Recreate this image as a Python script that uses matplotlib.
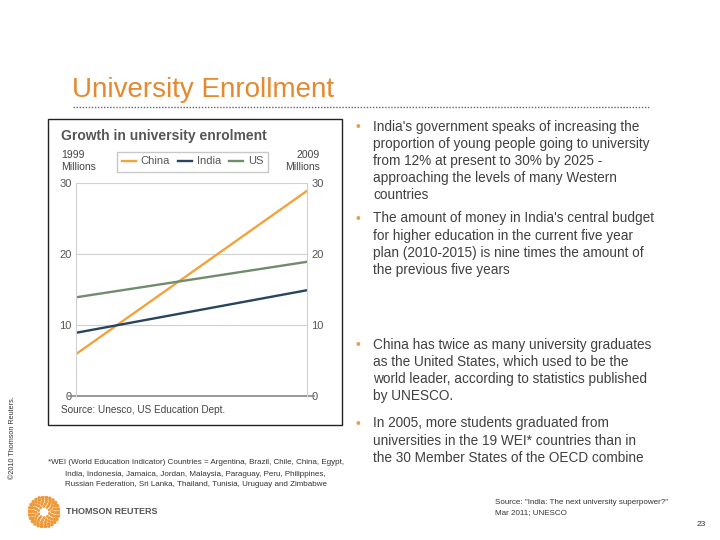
import matplotlib.pyplot as plt
import numpy as np

plt.rcParams['font.family'] = ['Liberation Sans', 'DejaVu Sans']

years = [1999, 2009]
china = [5.9, 28.9]
india = [8.9, 14.9]
us = [13.9, 18.9]
series_names = ['China', 'India', 'US']
series_colors = ['#F2A33C', '#27455F', '#6F8C6C']
yticks = [0, 10, 20, 30]

bullets = [
    "India's government speaks of increasing the\nproportion of young people going to university\n"
    "from 12% at present to 30% by 2025 -\napproaching the levels of many Western\ncountries",
    "The amount of money in India's central budget\nfor higher education in the current five year\n"
    "plan (2010-2015) is nine times the amount of\nthe previous five years",
    "China has twice as many university graduates\nas the United States, which used to be the\n"
    "world leader, according to statistics published\nby UNESCO.",
    "In 2005, more students graduated from\nuniversities in the 19 WEI* countries than in\n"
    "the 30 Member States of the OECD combine",
]
bullet_y = [127, 219, 345, 424]

footnote = ["*WEI (World Education Indicator) Countries = Argentina, Brazil, Chile, China, Egypt,",
            "India, Indonesia, Jamaica, Jordan, Malaysia, Paraguay, Peru, Philippines,",
            "Russian Federation, Sri Lanka, Thailand, Tunisia, Uruguay and Zimbabwe"]

W, H = 720, 540


def px(x, y):
    return x / W, 1 - y / H


fig = plt.figure(figsize=(7.2, 5.4), dpi=100)

# slide title + dotted rule
fig.text(*px(72, 90), 'University Enrollment', fontsize=20, color='#E5892E', va='center')
fig.add_artist(plt.Line2D([73 / W, 650 / W], [1 - 107 / H] * 2, color='#666666',
                          lw=1, ls=(0, (1, 1.2))))

# chart frame
fig.add_artist(plt.Rectangle(px(48, 425), 294 / W, 306 / H, fill=False,
                             edgecolor='#222222', lw=1))

fig.text(*px(61, 136), 'Growth in university enrolment', fontsize=10, fontweight='bold',
         color='#555555', va='center')
fig.text(*px(61, 161), '1999\nMillions', fontsize=7.5, color='#444444', va='center',
         linespacing=1.25)
fig.text(*px(320, 161), '2009\nMillions', fontsize=7.5, color='#444444', va='center',
         ha='right', linespacing=1.25)
fig.text(*px(61, 410), 'Source: Unesco, US Education Dept.', fontsize=7.2, color='#444444',
         va='center')

ax = fig.add_axes([76 / W, 1 - 396 / H, 231 / W, 213 / H])
for vals, name, col in zip([china, india, us], series_names, series_colors):
    ax.plot(years, vals, color=col, lw=1.7, label=name)
ax.set_xlim(years[0], years[1])
ax.set_ylim(0, 30)
ax.set_yticks(yticks)
ax.set_xticks([])
ax.grid(axis='y', color='#D0D0D0', lw=0.8)
ax.set_axisbelow(True)
ax.tick_params(axis='y', length=0, labelsize=8, labelcolor='#555555', pad=3,
               labelright=True)
for side in ['left', 'right']:
    ax.spines[side].set_color('#D0D0D0')
    ax.spines[side].set_linewidth(0.8)
ax.spines['top'].set_visible(False)
ax.spines['bottom'].set_visible(False)
ax.axhline(0, xmin=-0.03, xmax=1.03, color='#888888', lw=1.2, clip_on=False)

ax.legend(loc='center', bbox_to_anchor=px(192.5, 161.5), bbox_transform=fig.transFigure,
          ncol=3, fontsize=8, frameon=True, fancybox=False, edgecolor='#BBBBBB',
          handlelength=1.3, columnspacing=0.7, handletextpad=0.4, borderpad=0.45,
          labelcolor='#555555')

# bullets
for txt, y in zip(bullets, bullet_y):
    fig.text(*px(355, y), '\u2022', fontsize=10, color='#E0A050', va='center')
    fig.text(*px(373, y - 7.5), txt, fontsize=9.8, color='#404040', va='top', linespacing=1.28)

# footnote
fig.text(*px(48, 463), footnote[0], fontsize=5.8, color='#333333', va='center')
fig.text(*px(65, 474), footnote[1], fontsize=5.8, color='#333333', va='center')
fig.text(*px(65, 485), footnote[2], fontsize=5.8, color='#333333', va='center')

# copyright
fig.text(*px(13, 438), '\u00a92010 Thomson Reuters.', fontsize=5.2, color='#333333',
         rotation=90, va='center', ha='center')

# source bottom right
fig.text(*px(495, 503), 'Source: "India: The next university superpower?"', fontsize=5.8,
         color='#333333', va='center')
fig.text(*px(495, 513), 'Mar 2011; UNESCO', fontsize=5.8, color='#333333', va='center')
fig.text(*px(697, 524), '23', fontsize=6, color='#333333', va='center')

# logo
lax = fig.add_axes([28 / W, 1 - 528 / H, 32 / W, 32 / H])
lax.set_xlim(-1, 1)
lax.set_ylim(-1, 1)
lax.axis('off')
for r, n in zip([0.35, 0.5, 0.65, 0.8, 0.93], [10, 14, 18, 22, 26]):
    ang = np.linspace(0, 2 * np.pi, n, endpoint=False) + r
    lax.scatter(r * np.cos(ang), r * np.sin(ang), s=3 + 4 * r, color='#EE9A3A',
                edgecolors='none')
fig.text(*px(66, 512), 'THOMSON REUTERS', fontsize=6.5, fontweight='bold',
         color='#555555', va='center')

fig.savefig('out.png', dpi=100)
